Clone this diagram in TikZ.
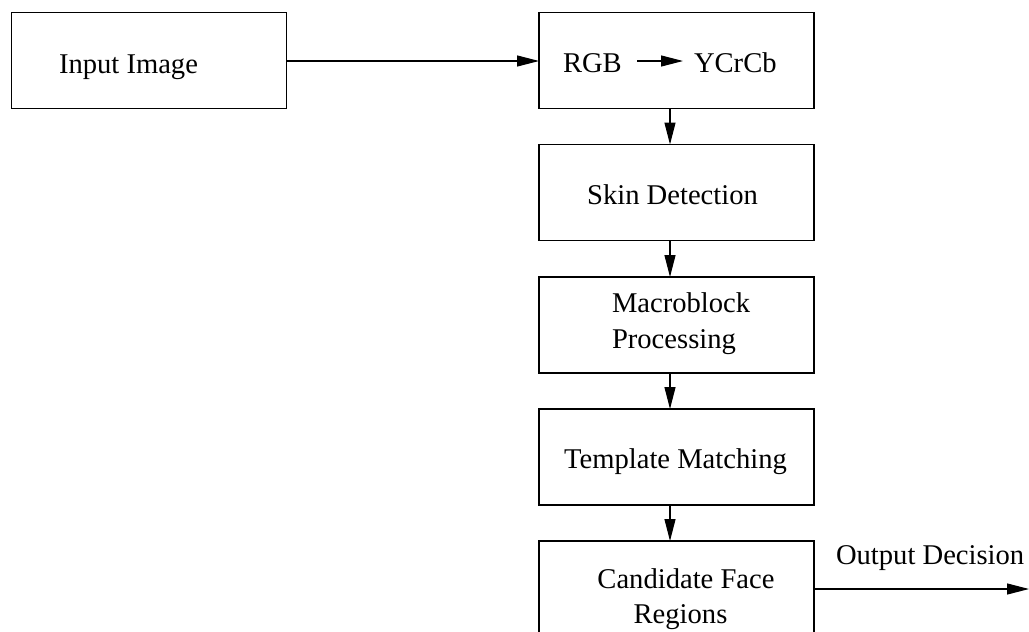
\documentclass[tikz,border=0pt]{standalone}
\usepackage{fontspec}
\setmainfont{Liberation Serif}
\usetikzlibrary{arrows.meta}
\begin{document}
\begin{tikzpicture}[x=1pt,y=-1pt,
  every node/.style={font=\fontsize{28.6}{36}\selectfont, inner sep=0pt, outer sep=0pt},
  stage/.style={draw, line width=1.2pt, minimum width=275pt, minimum height=96pt},
  lbl/.style={anchor=base west},
  flow/.style={line width=1.2pt, -{Triangle[length=22pt,width=11pt]}}]
\useasboundingbox (0,0) rectangle (1029,632);
\clip (0,0) rectangle (1029,632);

% input block
\node[stage] (in) at (149,60.5) {};
\node[lbl] (intext) at (59,73) {Input Image};

% processing chain
\node[stage] (conv) at (676.5,60.5) {};
\node[lbl] (rgb) at (563,72) {RGB};
\node[lbl] (ycc) at (694,72) {YCrCb};
\draw[flow] (637,61) coordinate (ca) -- (683,61) coordinate (cb);

\node[stage] (skin) at (676.5,192.5) {};
\node[anchor=base] (skintext) at (672.5,204) {Skin Detection};

\node[stage] (macro) at (676.5,325) {};
\node[lbl] (macro1) at (612,312) {Macroblock};
\node[lbl] (macro2) at (612,348) {Processing};

\node[stage] (tmpl) at (676.5,457) {};
\node[anchor=base] (tmpltext) at (675.5,468) {Template Matching};

\node[stage] (cand) at (676.5,589) {};
\node[anchor=base] (cand1) at (686,588) {Candidate Face};
\node[anchor=base] (cand2) at (680.5,623) {Regions};

% connectors
\draw[flow] (in.east |- 0,61) -- (conv.west |- 0,61);
\draw[flow] (conv.south -| 670,0) -- (skin.north -| 670,0);
\draw[flow] (skin.south -| 670,0) -- (macro.north -| 670,0);
\draw[flow] (macro.south -| 670,0) -- (tmpl.north -| 670,0);
\draw[flow] (tmpl.south -| 670,0) -- (cand.north -| 670,0);

\coordinate (outend) at (1029,589);
\draw[flow] (cand.east |- outend) -- (outend);
\node[lbl] (outlbl) at (836,564) {Output Decision};
\end{tikzpicture}
\end{document}
